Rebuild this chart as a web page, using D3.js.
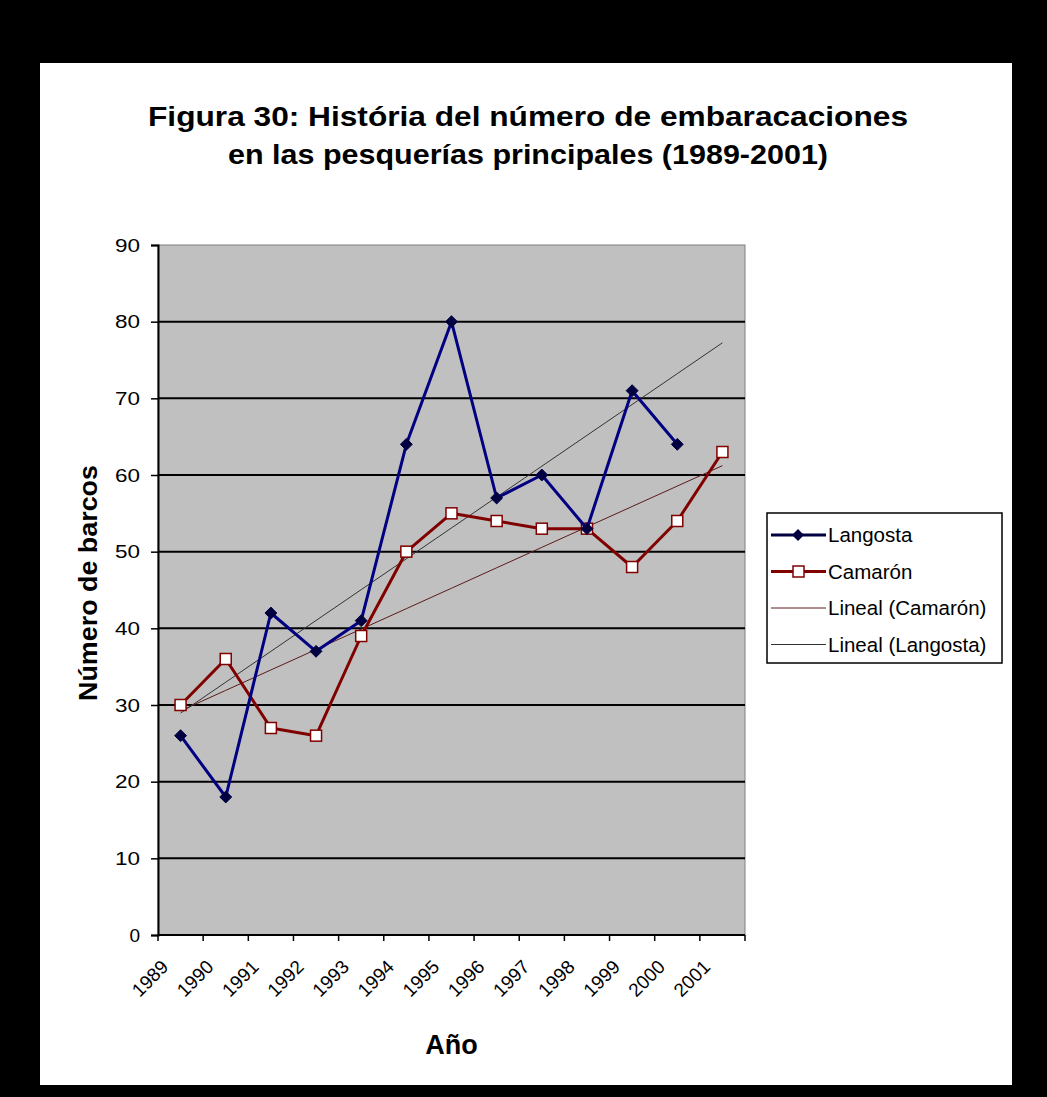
<!DOCTYPE html>
<html>
<head>
<meta charset="utf-8">
<script src="https://cdn.jsdelivr.net/npm/d3@7"></script>
<style>
  html, body { margin: 0; padding: 0; background: #000; }
  svg { display: block; }
  text { font-family: "Liberation Sans", Arial, sans-serif; fill: #000; }
</style>
</head>
<body>
<svg id="chart" width="1047" height="1097"></svg>
<script>
// Fleet size per year in the two main fisheries
const years = ["1989","1990","1991","1992","1993","1994","1995","1996","1997","1998","1999","2000","2001"];
const langosta = [26, 18, 42, 37, 41, 64, 80, 57, 60, 53, 71, 64, null];
const camaron  = [30, 36, 27, 26, 39, 50, 55, 54, 53, 53, 48, 54, 63];
const yTicks = [0, 10, 20, 30, 40, 50, 60, 70, 80, 90];
const titleLines = ["Figura 30: História del número de embaracaciones",
                    "en las pesquerías principales (1989-2001)"];
const legendLabels = ["Langosta", "Camarón", "Lineal (Camarón)", "Lineal (Langosta)"];

const svg = d3.select("#chart");

// frame
svg.append("rect").attr("x", 0).attr("y", 0).attr("width", 1047).attr("height", 1097).attr("fill", "#000");
svg.append("rect").attr("x", 40).attr("y", 63).attr("width", 972).attr("height", 1022).attr("fill", "#fff");

const plot = { left: 158, top: 245, right: 745, bottom: 935 };

const x = d3.scaleBand().domain(years).range([plot.left, plot.right]);
const y = d3.scaleLinear().domain([0, 90]).range([plot.bottom, plot.top]);
const cx = d => x(d) + x.bandwidth() / 2;

// plot area
svg.append("rect")
  .attr("x", plot.left).attr("y", plot.top)
  .attr("width", plot.right - plot.left).attr("height", plot.bottom - plot.top)
  .attr("fill", "#c0c0c0").attr("stroke", "#808080").attr("stroke-width", 1);

// horizontal gridlines
svg.append("g").selectAll("line").data(yTicks.filter(t => t > 0 && t < 90)).join("line")
  .attr("x1", plot.left).attr("x2", plot.right)
  .attr("y1", d => y(d)).attr("y2", d => y(d))
  .attr("stroke", "#000").attr("stroke-width", 2);

// y axis
const yAxis = svg.append("g").attr("transform", `translate(${plot.left},0)`)
  .call(d3.axisLeft(y).tickValues(yTicks).tickSize(7).tickPadding(11));
yAxis.select(".domain").attr("stroke", "#000").attr("stroke-width", 2);
yAxis.selectAll(".tick line").attr("stroke", "#000").attr("stroke-width", 1.5);
yAxis.selectAll(".tick text").style("font-size", "19px").style("font-family", "Liberation Sans, Arial, sans-serif")
  .attr("textLength", 25).attr("lengthAdjust", "spacingAndGlyphs");
yAxis.selectAll(".tick text").filter(d => d === 0).attr("textLength", null);

// x axis: ticks on category boundaries
const xAxisG = svg.append("g");
xAxisG.append("line")
  .attr("x1", plot.left).attr("x2", plot.right)
  .attr("y1", plot.bottom).attr("y2", plot.bottom)
  .attr("stroke", "#000").attr("stroke-width", 2);
const bounds = years.map(d => x(d)).concat([plot.right]);
xAxisG.selectAll("line.tk").data(bounds).join("line").attr("class", "tk")
  .attr("x1", d => d).attr("x2", d => d)
  .attr("y1", plot.bottom).attr("y2", plot.bottom + 6)
  .attr("stroke", "#000").attr("stroke-width", 1.5);
xAxisG.selectAll("text").data(years).join("text")
  .attr("transform", d => `translate(${cx(d) - 11},${plot.bottom + 33}) rotate(-45)`)
  .attr("text-anchor", "end")
  .style("font-size", "19px")
  .text(d => d);

// linear trendlines (least squares on category index)
function trend(values) {
  const pts = values.map((v, i) => [i + 1, v]).filter(p => p[1] != null);
  const mx = d3.mean(pts, p => p[0]), my = d3.mean(pts, p => p[1]);
  const sxy = d3.sum(pts, p => (p[0] - mx) * (p[1] - my));
  const sxx = d3.sum(pts, p => (p[0] - mx) ** 2);
  const b = sxy / sxx, a = my - b * mx;
  return years.map((yr, i) => [yr, a + b * (i + 1)]);
}
const lineFn = d3.line().defined(d => d[1] != null).x(d => cx(d[0])).y(d => y(d[1]));

svg.append("path").datum(trend(camaron)).attr("d", lineFn)
  .attr("fill", "none").attr("stroke", "#5a1a1a").attr("stroke-width", 1);
svg.append("path").datum(trend(langosta)).attr("d", lineFn)
  .attr("fill", "none").attr("stroke", "#333").attr("stroke-width", 1);

// Camarón series
const camData = years.map((yr, i) => [yr, camaron[i]]);
svg.append("path").datum(camData).attr("d", lineFn)
  .attr("fill", "none").attr("stroke", "#800000").attr("stroke-width", 3).attr("stroke-linejoin", "round");
svg.append("g").selectAll("rect").data(camData.filter(d => d[1] != null)).join("rect")
  .attr("x", d => cx(d[0]) - 5.5).attr("y", d => y(d[1]) - 5.5)
  .attr("width", 11).attr("height", 11)
  .attr("fill", "#fff").attr("stroke", "#800000").attr("stroke-width", 1.5);

// Langosta series
const lanData = years.map((yr, i) => [yr, langosta[i]]);
svg.append("path").datum(lanData).attr("d", lineFn)
  .attr("fill", "none").attr("stroke", "#000080").attr("stroke-width", 3).attr("stroke-linejoin", "round");
const diamond = d3.symbol().type(d3.symbolDiamond2).size(90);
svg.append("g").selectAll("path").data(lanData.filter(d => d[1] != null)).join("path")
  .attr("d", diamond)
  .attr("transform", d => `translate(${cx(d[0])},${y(d[1])})`)
  .attr("fill", "#000040").attr("stroke", "#000040").attr("stroke-width", 1);

// titles
const titleWidths = [760, 600];
svg.append("g").selectAll("text").data(titleLines).join("text")
  .attr("x", 528).attr("y", (d, i) => 126 + i * 38)
  .attr("text-anchor", "middle")
  .attr("textLength", (d, i) => titleWidths[i]).attr("lengthAdjust", "spacingAndGlyphs")
  .style("font-size", "28px").style("font-weight", "bold")
  .text(d => d);

svg.append("text")
  .attr("transform", `translate(97,583) rotate(-90)`)
  .attr("text-anchor", "middle")
  .style("font-size", "25px").style("font-weight", "bold")
  .attr("textLength", 236).attr("lengthAdjust", "spacingAndGlyphs")
  .text("Número de barcos");

svg.append("text")
  .attr("x", (plot.left + plot.right) / 2).attr("y", 1054)
  .attr("text-anchor", "middle")
  .style("font-size", "27px").style("font-weight", "bold")
  .text("Año");

// legend
const lg = svg.append("g").attr("transform", "translate(767,513)");
lg.append("rect").attr("width", 235).attr("height", 150)
  .attr("fill", "#fff").attr("stroke", "#000").attr("stroke-width", 1.5);
const legendStyles = [
  { color: "#000040", width: 3, marker: "diamond" },
  { color: "#800000", width: 3, marker: "square" },
  { color: "#5a1a1a", width: 1, marker: null },
  { color: "#333", width: 1, marker: null }
];
const rows = lg.selectAll("g.row").data(legendLabels).join("g").attr("class", "row")
  .attr("transform", (d, i) => `translate(0,${22 + i * 36.5})`);
rows.append("line").attr("x1", 4).attr("x2", 59).attr("y1", 0).attr("y2", 0)
  .attr("stroke", (d, i) => legendStyles[i].color)
  .attr("stroke-width", (d, i) => legendStyles[i].width);
rows.filter((d, i) => legendStyles[i].marker === "diamond").append("path")
  .attr("d", diamond).attr("transform", "translate(31,0)")
  .attr("fill", "#000040");
rows.filter((d, i) => legendStyles[i].marker === "square").append("rect")
  .attr("x", 26).attr("y", -5.5).attr("width", 11).attr("height", 11)
  .attr("fill", "#fff").attr("stroke", "#800000").attr("stroke-width", 1.5);
rows.append("text").attr("x", 61).attr("y", 7)
  .style("font-size", "20.5px")
  .text(d => d);
</script>
</body>
</html>
